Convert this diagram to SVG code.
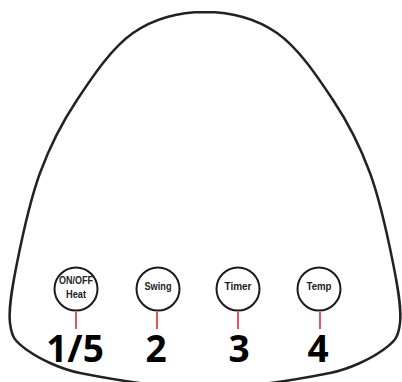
<svg xmlns="http://www.w3.org/2000/svg" width="402" height="382" viewBox="0 0 402 382">
<style>
.body{fill:#fff;stroke:#222;stroke-width:2.5}
.btn circle{fill:#fff;stroke:#1a1a1a;stroke-width:2}
.lbl{font-family:"Liberation Sans",Arial,sans-serif;font-weight:bold;font-size:10.5px;fill:#222;text-anchor:middle}
.num{font-family:"Open Sans","Noto Sans",sans-serif;font-weight:bold;font-size:37px;fill:#000;text-anchor:middle}
.lead{stroke:#e8262d;stroke-width:1.6}
</style>
<rect width="402" height="382" fill="#fff"/>
<g id="body">
<path class="body" d="M205,12 C181,12 154.3,18.3 133,33 C111.7,47.7 92.5,76.7 77,100 C61.5,123.3 50,145.8 40,173 C30,200.2 22,238 17,263 C12,288 8.3,308.5 10,323 C11.7,337.5 14.8,341.3 27,350 C39.2,358.7 60,369 80,373 C115,380 165,388 205,388 C245,388 295,380 330,373 C350,369 370.8,358.7 383,350 C395.2,341.3 398.3,337.5 400,323 C401.7,308.5 398,288 393,263 C388,238 380,200.2 370,173 C360,145.8 348.5,123.3 333,100 C317.5,76.7 298.3,47.7 277,33 C255.7,18.3 229,12 205,12 Z"/>
</g>
<g id="connectors">
<line class="lead" x1="76" y1="312" x2="76" y2="329"/>
<line class="lead" x1="157" y1="312" x2="157" y2="329"/>
<line class="lead" x1="238" y1="312" x2="238" y2="329"/>
<line class="lead" x1="320" y1="312" x2="320" y2="329"/>
</g>
<g id="btn-onoff" class="btn">
<circle cx="76" cy="289" r="21.5"/>
<text class="lbl" x="76" y="284" textLength="34" lengthAdjust="spacingAndGlyphs">ON/OFF</text>
<text class="lbl" x="76" y="297.5" textLength="20" lengthAdjust="spacingAndGlyphs">Heat</text>
</g>
<g id="btn-swing" class="btn">
<circle cx="158" cy="289" r="21.5"/>
<text class="lbl" x="158" y="289.5" textLength="27" lengthAdjust="spacingAndGlyphs">Swing</text>
</g>
<g id="btn-timer" class="btn">
<circle cx="238" cy="289" r="21.5"/>
<text class="lbl" x="238" y="289.5" textLength="27" lengthAdjust="spacingAndGlyphs">Timer</text>
</g>
<g id="btn-temp" class="btn">
<circle cx="319" cy="289" r="21.5"/>
<text class="lbl" x="319" y="289.5" textLength="25" lengthAdjust="spacingAndGlyphs">Temp</text>
</g>
<g id="numbers">
<text class="num" x="75" y="362">1/5</text>
<text class="num" x="156" y="362">2</text>
<text class="num" x="239" y="362">3</text>
<text class="num" x="318" y="362">4</text>
</g>
</svg>
